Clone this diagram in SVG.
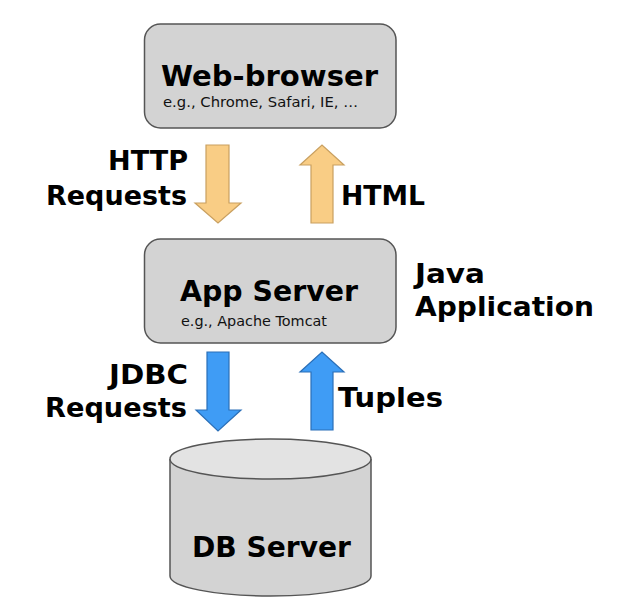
<svg xmlns="http://www.w3.org/2000/svg" width="628" height="615" viewBox="0 0 628 615">
<style>
.box{fill:#d3d3d3;stroke:#555;stroke-width:1.5}
.t{font-family:"DejaVu Sans",Verdana,sans-serif;font-weight:bold;fill:#000}
.big{font-size:28px}
.lbl{font-size:27px}
.sub{font-family:"DejaVu Sans",Verdana,sans-serif;font-size:14.5px;fill:#111}
.orange{fill:#f9cd85;stroke:#c9a060;stroke-width:1.2}
.blue{fill:#3f9cf5;stroke:#2a6fb8;stroke-width:1.2}
</style>
<rect width="628" height="615" fill="#fff"/>
<g id="web-browser">
<rect class="box" x="144.5" y="24" width="251.5" height="104" rx="16"/>
<text class="t big" x="161" y="86" textLength="217" lengthAdjust="spacingAndGlyphs">Web-browser</text>
<text class="sub" x="163" y="107" textLength="195" lengthAdjust="spacingAndGlyphs">e.g., Chrome, Safari, IE, …</text>
</g>
<g id="app-server">
<rect class="box" x="144.5" y="239" width="251.5" height="104" rx="16"/>
<text class="t big" x="180" y="301" textLength="178" lengthAdjust="spacingAndGlyphs">App Server</text>
<text class="sub" x="181" y="326" textLength="146" lengthAdjust="spacingAndGlyphs">e.g., Apache Tomcat</text>
</g>
<g id="db-server">
<path class="box" d="M170,459 L170,576 A100.5,20 0 0 0 371,576 L371,459"/>
<ellipse class="box" cx="270.5" cy="459" rx="100.5" ry="20" style="fill:#e3e3e3"/>
<text class="t big" x="192" y="557" textLength="159" lengthAdjust="spacingAndGlyphs">DB Server</text>
</g>
<g id="connectors">
<polygon class="orange" points="206,145 229,145 229,203 241,203 218,223 195,203 206,203"/>
<polygon class="orange" points="311,223 333,223 333,165 344,165 322,145 300,165 311,165"/>
<polygon class="blue" points="207,352 229,352 229,410 241,410 218,431 196,410 207,410"/>
<polygon class="blue" points="311,430 333,430 333,372 344,372 322,352 300,372 311,372"/>
</g>
<g id="labels">
<text class="t lbl" x="108" y="170" textLength="80" lengthAdjust="spacingAndGlyphs">HTTP</text>
<text class="t lbl" x="46" y="205" textLength="141" lengthAdjust="spacingAndGlyphs">Requests</text>
<text class="t lbl" x="341" y="205" textLength="84" lengthAdjust="spacingAndGlyphs">HTML</text>
<text class="t lbl" x="415" y="283" textLength="70" lengthAdjust="spacingAndGlyphs">Java</text>
<text class="t lbl" x="415" y="316" textLength="179" lengthAdjust="spacingAndGlyphs">Application</text>
<text class="t lbl" x="109" y="384" textLength="79" lengthAdjust="spacingAndGlyphs">JDBC</text>
<text class="t lbl" x="45" y="417" textLength="142" lengthAdjust="spacingAndGlyphs">Requests</text>
<text class="t lbl" x="338" y="407" textLength="105" lengthAdjust="spacingAndGlyphs">Tuples</text>
</g>
</svg>
